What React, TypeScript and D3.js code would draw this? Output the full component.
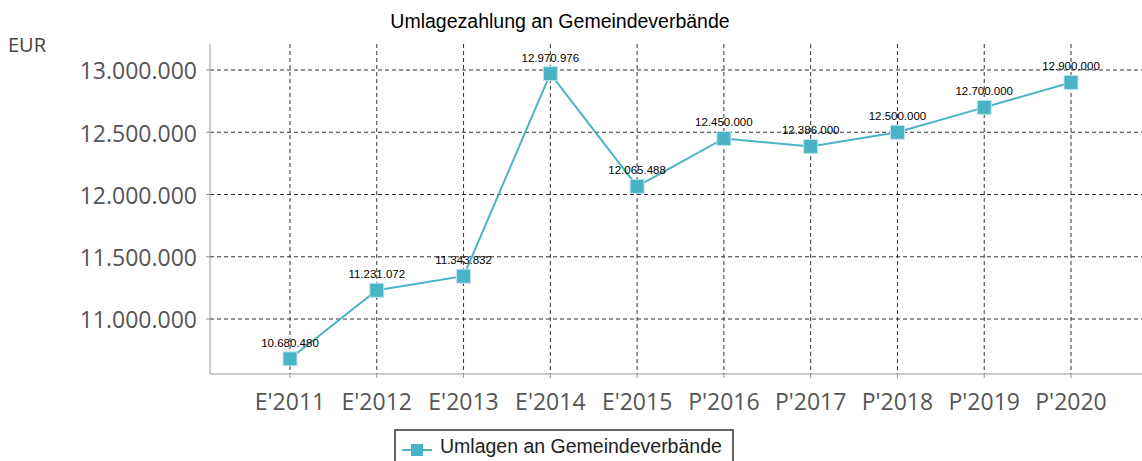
import React from "react";
import * as d3 from "d3";

const categories = ["E'2011", "E'2012", "E'2013", "E'2014", "E'2015", "P'2016", "P'2017", "P'2018", "P'2019", "P'2020"];
const values = [10680480, 11231072, 11343832, 12970976, 12065488, 12450000, 12386000, 12500000, 12700000, 12900000];
const yTicks = [11000000, 11500000, 12000000, 12500000, 13000000];
const seriesName = "Umlagen an Gemeindeverbände";
const title = "Umlagezahlung an Gemeindeverbände";
const unit = "EUR";

const W = 1142;
const H = 461;
const left = 210;
const top = 44;
const bottom = 374;
const COLOR = "#4bb3c6";
const TICKFONT = "Open Sans, DejaVu Sans, sans-serif";
const LABFONT = "Liberation Sans, Arial, sans-serif";

const fmt = (v: number) => d3.format(",")(v).replace(/,/g, ".");

export default function App() {
  const x = d3.scalePoint<string>().domain(categories).range([290, 1071]);
  const y = d3.scaleLinear().domain([10558600, 13208700]).range([bottom, top]);
  const line = d3
    .line<number>()
    .x((_, i) => x(categories[i]) as number)
    .y((d) => y(d));

  return (
    <svg width={W} height={H} style={{ position: "absolute", left: 0, top: 0, background: "#fff" }}>
      <text x={560} y={28} textAnchor="middle" fontFamily={LABFONT} fontSize={19.5} fill="#000">
        {title}
      </text>
      <text x={8} y={52} fontFamily={TICKFONT} fontSize={20} fill="#444">
        {unit}
      </text>
      {/* grid */}
      {yTicks.map((t) => (
        <line key={"h" + t} x1={left} x2={W} y1={y(t)} y2={y(t)} stroke="#333" strokeWidth={1} strokeDasharray="4,3" />
      ))}
      {categories.map((c) => (
        <line key={"v" + c} x1={x(c)} x2={x(c)} y1={top} y2={bottom} stroke="#333" strokeWidth={1} strokeDasharray="4,3" />
      ))}
      {/* axes */}
      <line x1={left} x2={left} y1={top} y2={bottom} stroke="#999" strokeWidth={1} />
      <line x1={left} x2={W} y1={bottom} y2={bottom} stroke="#999" strokeWidth={1} />
      {yTicks.map((t) => (
        <g key={"yt" + t}>
          <line x1={left - 4} x2={left} y1={y(t)} y2={y(t)} stroke="#999" />
          <text x={197} y={y(t)} dy="0.41em" textAnchor="end" fontFamily={TICKFONT} fontSize={23} fill="#555">
            {fmt(t)}
          </text>
        </g>
      ))}
      {categories.map((c) => (
        <g key={"xt" + c}>
          <line x1={x(c)} x2={x(c)} y1={bottom} y2={bottom + 4} stroke="#999" />
          <text x={x(c)} y={410} textAnchor="middle" fontFamily={TICKFONT} fontSize={23} fill="#555">
            {c}
          </text>
        </g>
      ))}
      {/* series */}
      <path d={line(values) || ""} fill="none" stroke={COLOR} strokeWidth={2} />
      {values.map((v, i) => {
        const cx = x(categories[i]) as number;
        const cy = y(v);
        return (
          <g key={"p" + i}>
            <rect x={cx - 7} y={cy - 7} width={14} height={14} fill={COLOR} stroke="#bfe6ee" strokeWidth={1} />
            <text x={cx} y={cy - 12} textAnchor="middle" fontFamily={LABFONT} fontSize={11.5} fill="#000">
              {fmt(v)}
            </text>
          </g>
        );
      })}
      {/* legend */}
      <rect x={395} y={430} width={338} height={40} fill="#fff" stroke="#333" strokeWidth={1.5} />
      <line x1={402} x2={432} y1={450} y2={450} stroke={COLOR} strokeWidth={2} />
      <rect x={411} y={444} width={12} height={12} fill={COLOR} />
      <text x={440} y={453} fontFamily={LABFONT} fontSize={19.5} fill="#222">
        {seriesName}
      </text>
    </svg>
  );
}
